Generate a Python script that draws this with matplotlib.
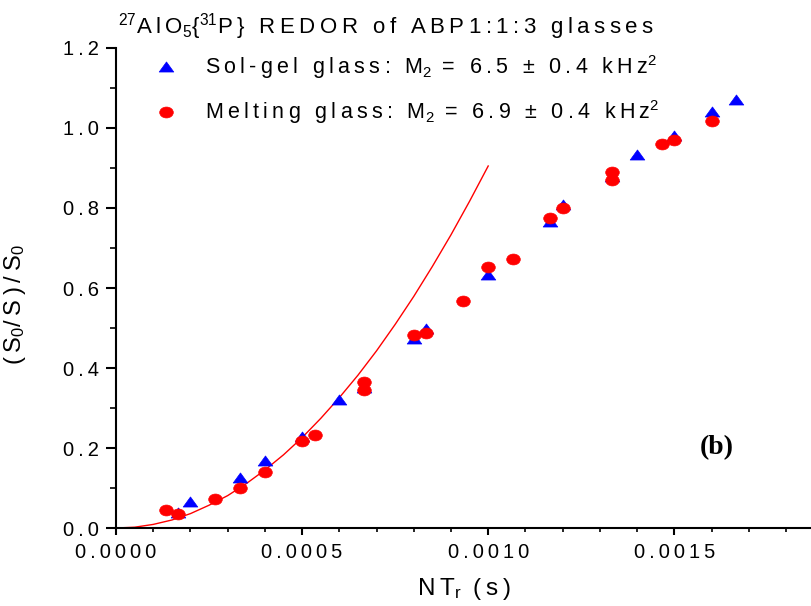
import numpy as np
import matplotlib
matplotlib.use('Agg')
import matplotlib.pyplot as plt
from matplotlib.path import Path
from matplotlib.transforms import Affine2D
from matplotlib.ticker import MultipleLocator, FuncFormatter

plt.rcParams['font.family'] = ['Liberation Sans', 'DejaVu Sans']
plt.rcParams['mathtext.fontset'] = 'custom'
plt.rcParams['mathtext.rm'] = 'Liberation Sans'
plt.rcParams['mathtext.it'] = 'Liberation Sans'

THIN = '\u2009'

# sol-gel glass (blue triangles)
solgel_x = [0.000167, 0.000200, 0.000333, 0.000400, 0.000500, 0.000600, 0.000666,
            0.000800, 0.000834, 0.001000, 0.001166, 0.001200, 0.001332, 0.001400,
            0.001500, 0.001600, 0.001665]
solgel_y = [0.037, 0.064, 0.124, 0.167, 0.228, 0.320, 0.349,
            0.472, 0.497, 0.633, 0.766, 0.807, 0.878, 0.932,
            0.980, 1.040, 1.070]

# melting glass (red circles)
melt_x = [0.000134, 0.000167, 0.000266, 0.000333, 0.000400, 0.000500, 0.000534,
          0.000666, 0.000666, 0.000800, 0.000834, 0.000933, 0.001000, 0.001066,
          0.001166, 0.001200, 0.001332, 0.001332, 0.001466, 0.001500, 0.001600]
melt_y = [0.046, 0.034, 0.073, 0.099, 0.141, 0.218, 0.233,
          0.365, 0.345, 0.483, 0.487, 0.567, 0.652, 0.672,
          0.774, 0.799, 0.891, 0.870, 0.960, 0.970, 1.018]

# fitted curve
fit_x = [0.0, 0.00005, 0.0001, 0.00015, 0.0002, 0.00025, 0.0003, 0.00035, 0.0004,
         0.00045, 0.0005, 0.00055, 0.0006, 0.00065, 0.0007, 0.00075, 0.0008,
         0.00085, 0.0009, 0.00095, 0.0010]
fit_y = [0.0, 0.002, 0.009, 0.020, 0.036, 0.057, 0.081, 0.111, 0.145,
         0.183, 0.226, 0.274, 0.326, 0.382, 0.443, 0.509, 0.579,
         0.654, 0.733, 0.817, 0.905]


def spaced(s):
    # letter spacing outside the math parts
    parts = s.split('$')
    return '$'.join(THIN.join(p) if i % 2 == 0 else p for i, p in enumerate(parts))


ell = Path.unit_circle().transformed(Affine2D().scale(1.25, 1.0))
tri = Path([(-1.0, -0.62), (1.0, -0.62), (0.0, 0.76), (-1.0, -0.62)],
           [Path.MOVETO, Path.LINETO, Path.LINETO, Path.CLOSEPOLY])

fig = plt.figure(figsize=(8.12, 6.06), dpi=100)
ax = fig.add_axes([0.1429, 0.1287, 0.8571, 0.7921])

ax.plot(fit_x, fit_y, color='red', lw=1.0, zorder=2)
ax.plot(solgel_x, solgel_y, ls='none', marker=tri, ms=10.5, color='blue', mec='blue', mew=0.5,
        label=spaced('Sol-gel glass: M$_2$ = 6.5 ± 0.4 kHz$^2$'), zorder=3)
ax.plot(melt_x, melt_y, ls='none', marker=ell, ms=9.8, color='red', mec='red', mew=0.5,
        label=spaced('Melting glass: M$_2$ = 6.9 ± 0.4 kHz$^2$'), zorder=4)

ax.set_xlim(0, 0.00187)
ax.set_ylim(0, 1.2)
ax.xaxis.set_major_locator(MultipleLocator(0.0005))
ax.xaxis.set_minor_locator(MultipleLocator(0.0001))
ax.yaxis.set_major_locator(MultipleLocator(0.2))
ax.yaxis.set_minor_locator(MultipleLocator(0.1))
ax.xaxis.set_major_formatter(FuncFormatter(lambda v, p: THIN.join(f'{v:.4f}')))
ax.yaxis.set_major_formatter(FuncFormatter(lambda v, p: THIN.join(f'{v:.1f}')))

for s in ['top', 'right']:
    ax.spines[s].set_visible(False)
for s in ['left', 'bottom']:
    ax.spines[s].set_linewidth(1.5)
ax.tick_params(axis='x', which='major', direction='out', length=5, width=1.5, labelsize=14.5, pad=6)
ax.tick_params(axis='x', which='minor', direction='out', length=3, width=1.2)
ax.tick_params(axis='y', which='major', direction='out', length=7, width=1.5, labelsize=14.5, pad=5)
ax.tick_params(axis='y', which='minor', direction='out', length=4, width=1.2)

ax.set_xlabel(spaced('NT$_r$ (s)'), fontsize=17.5, labelpad=10)
ax.set_ylabel(spaced('(S$_0$/S)/S$_0$'), fontsize=17)
ax.yaxis.set_label_coords(-0.126, 0.465)

fig.text(0.145, 0.957, spaced('$^{27}$AlO$_5${$^{31}$P} REDOR of ABP1:1:3 glasses'), fontsize=16,
         va='center', ha='left')

ax.legend(loc='upper left', bbox_to_anchor=(0.035, 1.02), frameon=False, fontsize=15.5,
          handletextpad=1.3, labelspacing=0.78, handlelength=1.0, borderpad=0.2)

ax.text(0.001614, 0.2, '(b)', fontsize=20, fontweight='bold', family='Liberation Serif',
        ha='center', va='center')

plt.savefig('out.png', dpi=100)
